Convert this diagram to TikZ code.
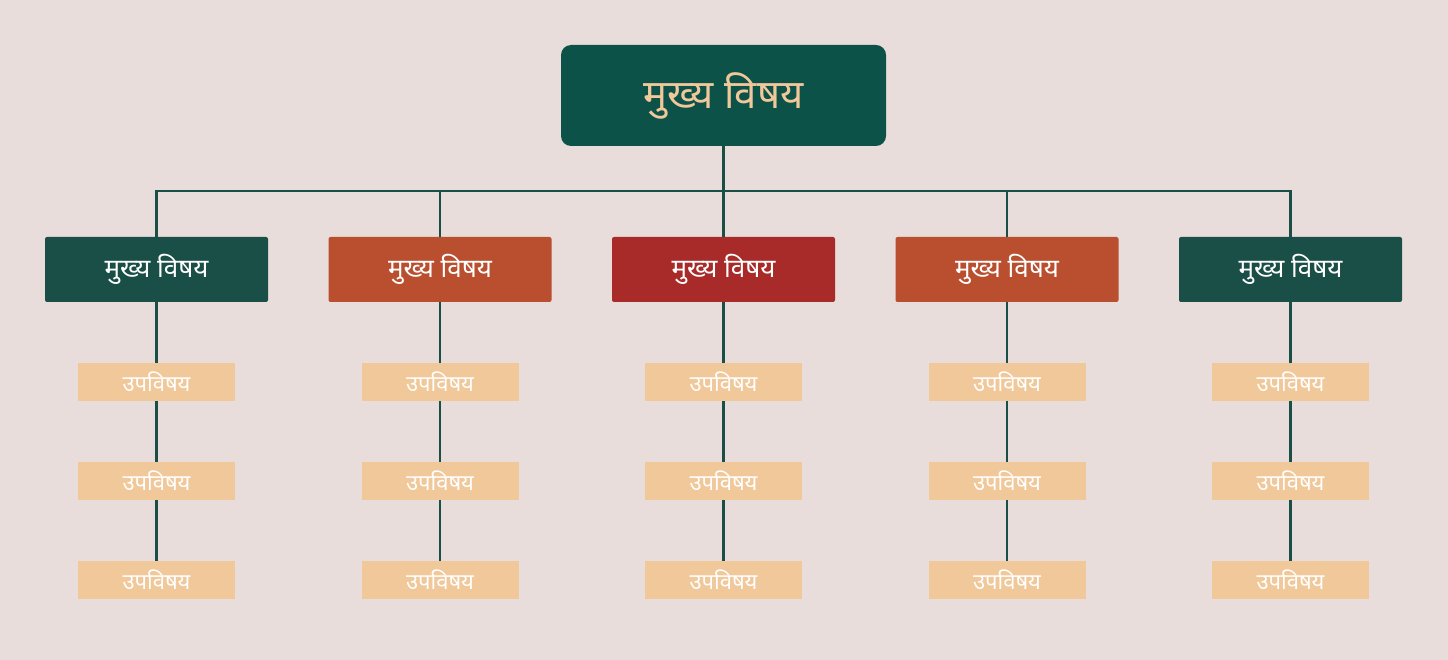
\documentclass[tikz,border=0pt]{standalone}
\usepackage{fontspec}
\newfontfamily\deva[Script=Devanagari]{Noto Sans}
\definecolor{bgpink}{HTML}{E8DDDB}
\definecolor{topgreen}{HTML}{0D5249}
\definecolor{darkgreen}{HTML}{1A4F48}
\definecolor{rust}{HTML}{B94F2E}
\definecolor{brick}{HTML}{A82B2A}
\definecolor{peach}{HTML}{F0C89A}
\tikzset{
  mainbox/.style={fill=topgreen, rounded corners=10pt, minimum width=325pt, minimum height=101pt, inner sep=0pt, text=peach, font=\deva\fontsize{40}{48}\selectfont},
  topicbox/.style={rounded corners=2pt, minimum width=223pt, minimum height=65pt, inner sep=0pt, text=white, font=\deva\fontsize{26}{32}\selectfont},
  subbox/.style={fill=peach, minimum width=157pt, minimum height=38pt, inner sep=0pt, text=white, font=\deva\fontsize{22}{26}\selectfont},
  link/.style={draw=darkgreen, line width=2.5pt}
}
\begin{document}
\begin{tikzpicture}[x=1pt,y=-1pt]
\useasboundingbox[fill=bgpink] (0,0) rectangle (1448,660);

% links first, boxes on top
\coordinate (bus) at (723.5,191);
\coordinate (busL) at (156.5,191);
\coordinate (busR) at (1290.5,191);

\node[mainbox] (main) at (723.5,95.5) {मुख्य विषय};

\node[topicbox, fill=darkgreen] (t1) at (156.5,269.5) {मुख्य विषय};
\node[topicbox, fill=rust] (t2) at (440,269.5) {मुख्य विषय};
\node[topicbox, fill=brick] (t3) at (723.5,269.5) {मुख्य विषय};
\node[topicbox, fill=rust] (t4) at (1007,269.5) {मुख्य विषय};
\node[topicbox, fill=darkgreen] (t5) at (1290.5,269.5) {मुख्य विषय};

\foreach \t/\x in {1/156.5,2/440,3/723.5,4/1007,5/1290.5}{
  \node[subbox] (s\t a) at (\x,382) {उपविषय};
  \node[subbox] (s\t b) at (\x,481) {उपविषय};
  \node[subbox] (s\t c) at (\x,580) {उपविषय};
  \draw[link] (t\t) -- (s\t a);
  \draw[link] (s\t a) -- (s\t b);
  \draw[link] (s\t b) -- (s\t c);
  \draw[link] (t\t.north) -- (t\t.north |- bus);
}

\draw[link] (main) -- (bus);
\draw[link, line cap=rect] (busL) -- (busR);

\end{tikzpicture}
\end{document}
